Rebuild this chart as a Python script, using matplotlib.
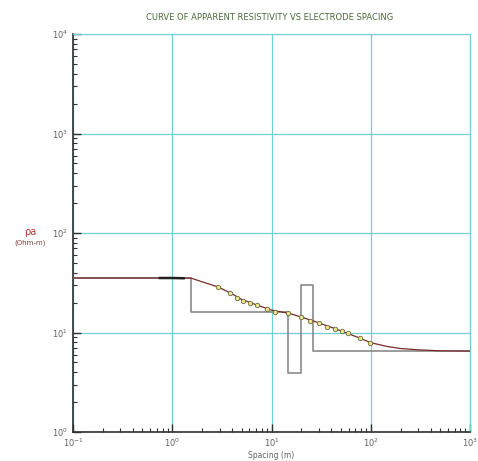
import matplotlib
matplotlib.use("Agg")
import matplotlib.pyplot as plt
from matplotlib.ticker import LogLocator, NullFormatter

# layered model (step boundaries and resistivities)
layerDepths = [0.1, 1.55, 14.6, 19.8, 26.2, 1000]
layerRho = [35.3, 16.0, 3.9, 30.0, 6.5]

# calculated apparent resistivity curve
calcSpacing = [0.1, 1.0, 1.55, 2.0, 2.9, 4.0, 5.0, 7.0, 10, 15, 20, 30, 50, 75, 100, 150, 200, 300, 500, 1000]
calcRho = [35.3, 35.3, 35.2, 32.3, 28.7, 24.5, 21.5, 19.0, 16.8, 15.6, 14.3, 12.5, 10.4, 8.9, 7.9, 7.2, 6.9, 6.7, 6.55, 6.5]

# field data
fieldSpacing = [2.89, 3.82, 4.49, 5.16, 6.07, 7.14, 9.01, 10.8, 14.7, 19.8, 24.4, 30.1, 36.2, 43.6, 51.3, 59.0, 78.0, 98.3]
fieldRho = [28.7, 24.9, 22.2, 20.7, 19.8, 18.9, 17.2, 16.1, 15.7, 14.3, 13.1, 12.5, 11.4, 10.8, 10.4, 9.9, 8.8, 7.8]

# short segment at start of field curve
startSpacing = [0.75, 1.0, 1.3]
startRho = [35.3, 35.3, 35.1]

gridColor = "#6fd0d8"

fig = plt.figure(figsize=(4.78, 4.61), dpi=100)
ax = fig.add_axes([0.1527, 0.0629, 0.8306, 0.8633])

ax.set_xscale("log")
ax.set_yscale("log")
ax.set_xlim(0.1, 1000)
ax.set_ylim(1, 10000)

stepX = []
stepY = []
for i, rho in enumerate(layerRho):
    stepX += [layerDepths[i], layerDepths[i + 1]]
    stepY += [rho, rho]
ax.plot(stepX, stepY, color="#8a8a8a", lw=1.2, zorder=3)

ax.plot(calcSpacing, calcRho, color="#7a2a2a", lw=0.9, zorder=4)
ax.plot(startSpacing, startRho, color="#202020", lw=1.8, zorder=4)
ax.plot(fieldSpacing, fieldRho, linestyle="none", marker="o", ms=3.2,
        mfc="#ece68a", mec="#6a6a40", mew=0.6, zorder=5)

ax.grid(True, which="major", color=gridColor, lw=0.9)
ax.set_axisbelow(True)

for side in ["top", "right"]:
    ax.spines[side].set_color(gridColor)
for side in ["left", "bottom"]:
    ax.spines[side].set_color("#303030")
    ax.spines[side].set_linewidth(1.2)

ax.xaxis.set_minor_locator(LogLocator(base=10, subs=range(2, 10), numticks=20))
ax.yaxis.set_minor_locator(LogLocator(base=10, subs=range(2, 10), numticks=20))
ax.xaxis.set_minor_formatter(NullFormatter())
ax.yaxis.set_minor_formatter(NullFormatter())
ax.tick_params(which="both", direction="in", top=False, right=False, color="#303030")
ax.tick_params(which="major", length=6, width=1, labelsize=6, labelcolor="#606060")
ax.tick_params(which="minor", length=3, width=0.8)

fig.text(0.565, 0.962, "CURVE OF APPARENT RESISTIVITY VS ELECTRODE SPACING",
         ha="center", va="center", fontsize=6, color="#4a6a3a")
fig.text(0.063, 0.497, "ρa", ha="center", va="center", fontsize=7, color="#c03030")
fig.text(0.063, 0.473, "(Ohm-m)", ha="center", va="center", fontsize=5, color="#804040")
fig.text(0.567, 0.012, "Spacing (m)", ha="center", va="center", fontsize=5.5, color="#606060")

fig.savefig("out.png", dpi=100)
